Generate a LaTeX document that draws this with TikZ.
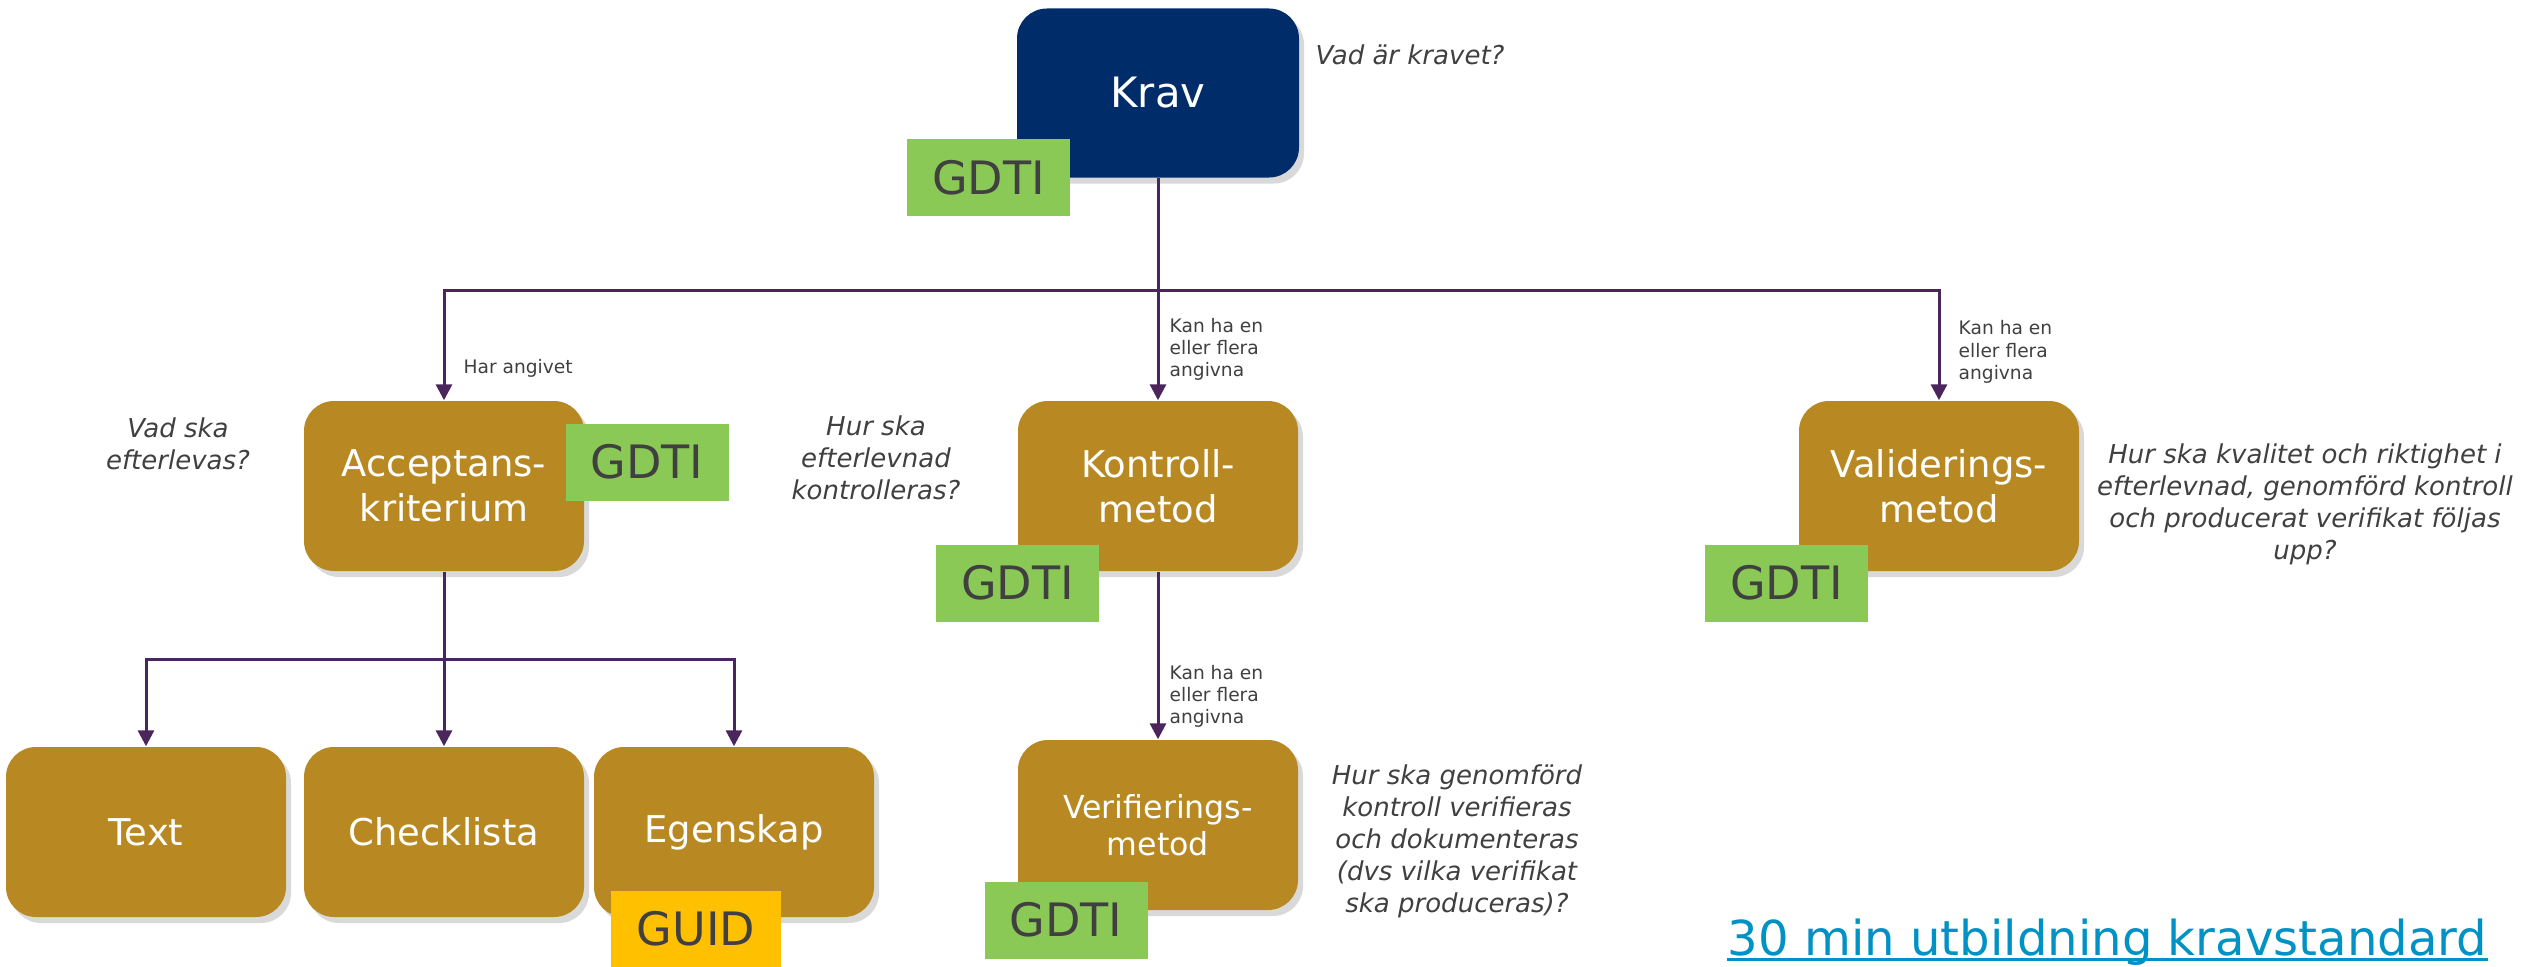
\documentclass[tikz,border=0pt]{standalone}
\usepackage{fontspec}
\setmainfont{DejaVu Sans}
\usepackage{tikz}
\usetikzlibrary{arrows.meta, shadows}
\definecolor{kravblue}{RGB}{0,45,106}
\definecolor{boxbrown}{RGB}{184,137,34}
\definecolor{gdtigreen}{RGB}{139,201,86}
\definecolor{guidgold}{RGB}{255,192,0}
\definecolor{textgray}{RGB}{64,64,64}
\definecolor{connpurple}{RGB}{74,38,92}
\definecolor{linkblue}{RGB}{0,146,196}

\begin{document}
\begin{tikzpicture}[
  box/.style = {fill = boxbrown, rounded corners = 0.3cm, minimum width = 2.8cm,
    minimum height = 1.7cm, align = center, text = white,
    font = \fontsize{10.5}{12.8}\selectfont,
    drop shadow = {shadow xshift = 0.05cm, shadow yshift = -0.06cm, opacity = 0.3}},
  tag/.style = {fill = gdtigreen, text = textgray, minimum width = 1.63cm,
    minimum height = 0.77cm, inner sep = 0, font = \fontsize{13.1}{15}\selectfont},
  ask/.style = {text = textgray, align = center, font = \fontsize{7.4}{9.1}\selectfont\itshape},
  lbl/.style = {text = textgray, align = left, anchor = west, inner sep = 0,
    font = \fontsize{5.3}{6.3}\selectfont},
  conn/.style = {draw = connpurple, line width = 0.03cm, -{Triangle[length = 0.16cm, width = 0.16cm]}}
]
\useasboundingbox (0, 0) rectangle (25.3, -9.67);

% main boxes
\node (krav) at (11.58, -0.93) [box, fill = kravblue, minimum width = 2.82cm, minimum height = 1.69cm,
  font = \fontsize{11.9}{14}\selectfont] {Krav};
\node (accept) at (4.44, -4.86) [box] {Acceptans-\\kriterium};
\node (kontroll) at (11.58, -4.86) [box] {Kontroll-\\metod};
\node (valid) at (19.39, -4.86) [box] {Validerings-\\metod};
\node (verif) at (11.58, -8.25) [box, font = \fontsize{9}{10.5}\selectfont] {Verifierings-\\metod};
\node (text) at (1.46, -8.32) [box] {Text};
\node (check) at (4.44, -8.32) [box] {Checklista};
\node (egen) at (7.34, -8.32) [box] {Egenskap};

% identifiers
\node (gdtikrav) at (9.885, -1.775) [tag] {GDTI};
\node (gdtiaccept) at (6.47, -4.62) [tag] {GDTI};
\node (gdtikontroll) at (10.175, -5.83) [tag] {GDTI};
\node (gdtivalid) at (17.865, -5.83) [tag] {GDTI};
\node (gdtiverif) at (10.66, -9.20) [tag] {GDTI};
\node (guid) at (6.96, -9.29) [tag, fill = guidgold, minimum width = 1.70cm, minimum height = 0.76cm] {GUID};

% connectors
\coordinate (topbus) at (11.58, -2.90);
\coordinate (lowbus) at (4.44, -6.59);
\draw [conn] (krav.south) -- (kontroll.north);
\draw [conn] (krav.south) -- (topbus) -| (accept.north);
\draw [conn] (krav.south) -- (topbus) -| (valid.north);
\draw [conn] (kontroll.south) -- (verif.north);
\draw [conn] (accept.south) -- (lowbus) -| (text.north);
\draw [conn] (accept.south) -- (check.north);
\draw [conn] (accept.south) -- (lowbus) -| (egen.north);

% connector labels
\node (harlbl) at (4.63, -3.68) [lbl] {Har angivet};
\node (kontrolllbl) at (11.69, -3.49) [lbl] {Kan ha en\\eller flera\\angivna};
\node (validlbl) at (19.58, -3.52) [lbl] {Kan ha en\\eller flera\\angivna};
\node (veriflbl) at (11.69, -6.96) [lbl] {Kan ha en\\eller flera\\angivna};

% questions
\node (askkrav) at (13.15, -0.55) [ask, anchor = west, inner sep = 0] {Vad är kravet?};
\node (askaccept) at (1.78, -4.44) [ask] {Vad ska\\efterlevas?};
\node (askkontroll) at (8.76, -4.58) [ask] {Hur ska\\efterlevnad\\kontrolleras?};
\node (askvalid) at (23.05, -5.04) [ask] {Hur ska kvalitet och riktighet i\\efterlevnad, genomförd kontroll\\och producerat verifikat följas\\upp?};
\node (askverif) at (14.57, -8.41) [ask] {Hur ska genomförd\\kontroll verifieras\\och dokumenteras\\(dvs vilka verifikat\\ska produceras)?};

% link
\node (link) at (17.27, -9.55) [anchor = base west, inner sep = 0, text = linkblue,
  font = \fontsize{13.7}{16}\selectfont] {30 min utbildning kravstandard};
\draw [linkblue, line width = 0.03cm] ([yshift = -0.04cm]link.base west) -- ([yshift = -0.04cm]link.base east);
\end{tikzpicture}
\end{document}
